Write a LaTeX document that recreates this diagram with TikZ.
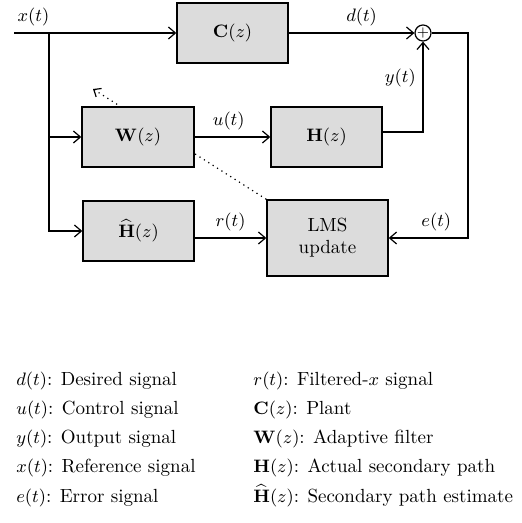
\documentclass[tikz,border=0pt]{standalone}
\usepackage{amsmath}
\usepackage{tikz}
\usetikzlibrary{arrows.meta,positioning,backgrounds}
\definecolor{boxfill}{RGB}{220,220,220}
\tikzset{
  blk/.style={draw,fill=boxfill,line width=0.7pt,minimum width=55.5pt,minimum height=30pt,inner sep=0pt},
  sig/.style={line width=0.6pt,-{Straight Barb[length=3.5pt,width=6pt]}},
  wire/.style={line width=0.6pt},
  adapt/.style={dotted,line width=0.6pt,-{Straight Barb[length=3pt,width=5pt]}},
  legend/.style={anchor=base west,inner sep=0pt},
}

\begin{document}
\begin{tikzpicture}[x=0.5pt,y=-0.5pt,every node/.style={font=\fontsize{9.5}{11}\selectfont}]
  \useasboundingbox (0,0) rectangle (521,523);
  % blocks
  \node[blk] (C) at (232.5,33) {$\mathbf{C}(z)$};
  \node[blk,minimum width=56pt] (W) at (138,137) {$\mathbf{W}(z)$};
  \node[blk] (H) at (326.5,137) {$\mathbf{H}(z)$};
  \node[blk] (Hh) at (138.5,231) {$\widehat{\mathbf{H}}(z)$};
  \node[blk,minimum width=60.5pt,minimum height=38pt,align=center] (LMS) at (327.5,238) {LMS\\update};
  \node[circle,draw,line width=0.6pt,minimum size=8pt,inner sep=0pt,font=\scriptsize] (sum) at (423,33) {$+$};
  \coordinate (xin) at (14,33);
  \coordinate (br) at (49,33);
  \coordinate (ecorner) at (468,33);
  \coordinate (tip) at (93,89);
  % signals
  \draw[sig] (xin) -- node[pos=0.12,above]{$x(t)$} (C);
  \draw[sig] (br) |- (W);
  \draw[sig] (br) |- (Hh);
  \draw[sig] (C) -- node[pos=0.58,above]{$d(t)$} (sum);
  \draw[sig] (W) -- node[pos=0.45,above]{$u(t)$} (H);
  \draw[sig] ([yshift=2.5pt]H.east) -| node[pos=0.8,left]{$y(t)$} (sum);
  \draw[sig] (Hh.east |- LMS.west) -- node[above]{$r(t)$} (LMS);
  \draw[sig] (sum) -- (ecorner) |- node[pos=0.7,above]{$e(t)$} (LMS);
  \begin{scope}[on background layer]
    \draw[adapt] (LMS.north west) -- (tip);
  \end{scope}
  % legend
  \node[legend] (l1) at (16,385) {$d(t)$: Desired signal};
  \node[legend] (l2) at (16,414.3) {$u(t)$: Control signal};
  \node[legend] (l3) at (16,443.6) {$y(t)$: Output signal};
  \node[legend] (l4) at (16,472.9) {$x(t)$: Reference signal};
  \node[legend] (l5) at (16,502.2) {$e(t)$: Error signal};
  \node[legend] (r1) at (253,385) {$r(t)$: Filtered-$x$ signal};
  \node[legend] (r2) at (253,414.3) {$\mathbf{C}(z)$: Plant};
  \node[legend] (r3) at (253,443.6) {$\mathbf{W}(z)$: Adaptive filter};
  \node[legend] (r4) at (253,472.9) {$\mathbf{H}(z)$: Actual secondary path};
  \node[legend] (r5) at (253,502.2) {$\widehat{\mathbf{H}}(z)$: Secondary path estimate};
\end{tikzpicture}
\end{document}
